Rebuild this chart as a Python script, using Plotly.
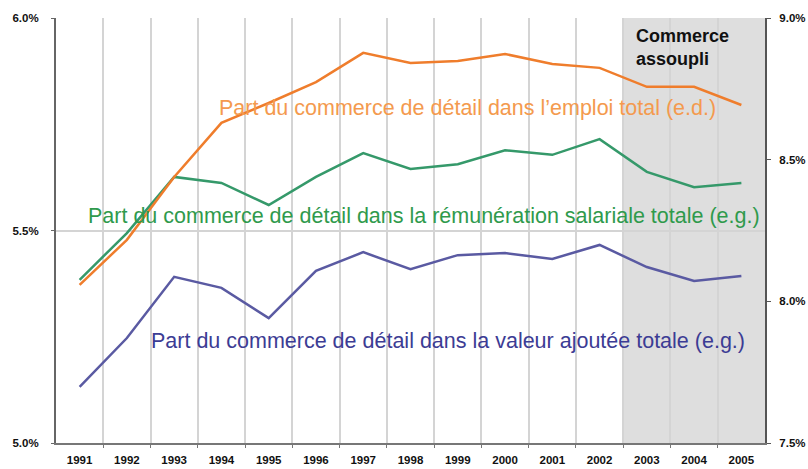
import plotly.graph_objects as go

years = list(range(1991, 2006))
emploi = [8.058, 8.217, 8.439, 8.630, 8.700, 8.774, 8.877, 8.841, 8.848, 8.873, 8.838, 8.824, 8.757, 8.757, 8.693]
remun = [5.384, 5.494, 5.626, 5.612, 5.560, 5.626, 5.682, 5.645, 5.656, 5.689, 5.678, 5.715, 5.638, 5.602, 5.612]
valeur = [5.132, 5.247, 5.391, 5.365, 5.294, 5.405, 5.449, 5.409, 5.442, 5.447, 5.433, 5.466, 5.414, 5.381, 5.393]
left_ticks = [5.0, 5.5, 6.0]
left_labels = ["5.0%", "5.5%", "6.0%"]
right_ticks = [7.5, 8.0, 8.5, 9.0]
right_labels = ["7.5%", "8.0%", "8.5%", "9.0%"]
shade_start, shade_end = 2002.5, 2005.5

tickfont = dict(family="Liberation Sans Narrow, Liberation Sans, Arial", size=11.5, color="#111111", weight="bold")
textfont = "Liberation Sans, Arial, sans-serif"

fig = go.Figure()
fig.add_trace(go.Scatter(x=years, y=remun, mode="lines", line=dict(color="#35996a", width=2.5), yaxis="y"))
fig.add_trace(go.Scatter(x=years, y=valeur, mode="lines", line=dict(color="#5a5aa2", width=2.5), yaxis="y"))
fig.add_trace(go.Scatter(x=years, y=emploi, mode="lines", line=dict(color="#ef7d2c", width=2.5), yaxis="y2"))

fig.add_shape(type="rect", xref="x", yref="paper", x0=shade_start, x1=shade_end, y0=0, y1=1,
              fillcolor="#dedede", line=dict(width=0), layer="below")

fig.update_layout(
    width=808, height=469,
    margin=dict(l=56, r=43, t=18, b=26),
    paper_bgcolor="white", plot_bgcolor="white",
    showlegend=False,
    xaxis=dict(range=[1990.5, 2005.5], tickvals=years, ticktext=[str(y) for y in years],
               showgrid=False, tickfont=tickfont, ticks="", showline=True, linecolor="#777777", linewidth=2,
               ticklabelstandoff=5, automargin=False,
               minor=dict(tickvals=[y + 0.5 for y in years[:-1]], showgrid=True, gridcolor="#d4d4d4",
                          gridwidth=1.5, ticks="outside", ticklen=3, tickcolor="#777777"),
               zeroline=False, fixedrange=True),
    yaxis=dict(range=[5.0, 6.0], tickvals=left_ticks, ticktext=left_labels, tickfont=tickfont,
               showgrid=True, gridcolor="#d4d4d4", gridwidth=1.5, showline=True, linecolor="#666666",
               linewidth=2, ticks="outside", ticklen=3, tickcolor="#666666", zeroline=False,
               ticklabelstandoff=10, automargin=False),
    yaxis2=dict(range=[7.5, 9.0], tickvals=right_ticks, ticktext=right_labels, tickfont=tickfont,
                overlaying="y", side="right", showgrid=False, showline=True, linecolor="#555555",
                linewidth=2, ticks="outside", ticklen=4, tickcolor="#555555", zeroline=False,
                ticklabelstandoff=6, automargin=False),
)

def px_x(p):
    return (p - 56) / 709

def px_y(p):
    return (443 - p) / 425

fig.add_annotation(x=px_x(467), y=px_y(108), xref="paper", yref="paper", showarrow=False,
                   xanchor="center", yanchor="middle",
                   text="Part du commerce de détail dans l’emploi total (e.d.)",
                   font=dict(family=textfont, size=21.5, color="#f49a4e"))
fig.add_annotation(x=px_x(424), y=px_y(216), xref="paper", yref="paper", showarrow=False,
                   xanchor="center", yanchor="middle",
                   text="Part du commerce de détail dans la rémunération salariale totale (e.g.)",
                   font=dict(family=textfont, size=21.5, color="#2f9a4c"))
fig.add_annotation(x=px_x(448), y=px_y(341), xref="paper", yref="paper", showarrow=False,
                   xanchor="center", yanchor="middle",
                   text="Part du commerce de détail dans la valeur ajoutée totale (e.g.)",
                   font=dict(family=textfont, size=21.5, color="#3c3c94"))
fig.add_annotation(x=px_x(634), y=px_y(24), xref="paper", yref="paper", showarrow=False,
                   xanchor="left", yanchor="top", align="left",
                   text="<b>Commerce<br>assoupli</b>",
                   font=dict(family=textfont, size=18, color="#111111"))

fig.write_html("out.html", config={"displayModeBar": False},
               post_script="document.body.style.margin='0';document.body.style.padding='0';")
